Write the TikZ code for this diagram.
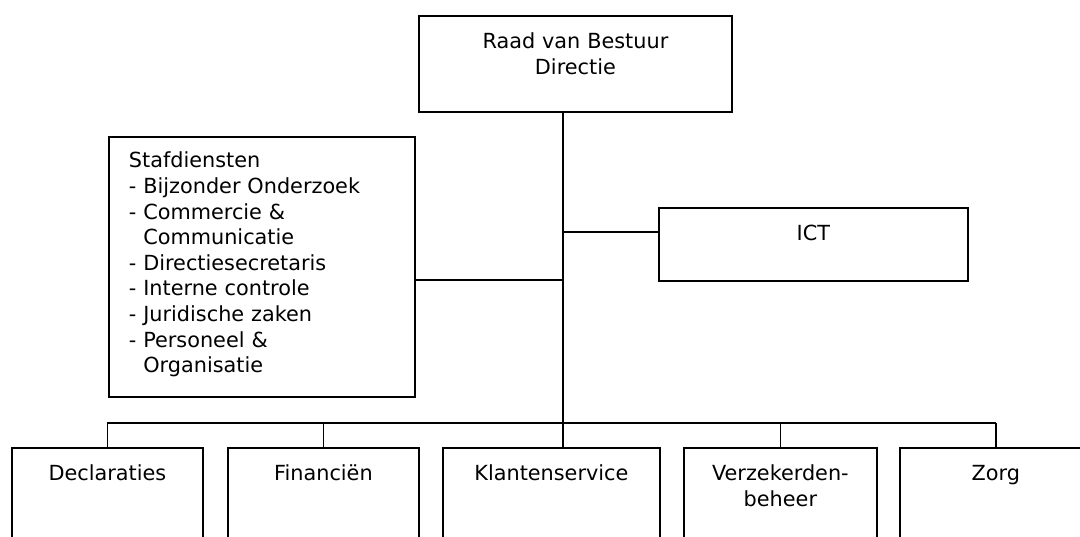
\documentclass[tikz,border=0pt]{standalone}
\usepackage{fontspec}
\setmainfont{DejaVu Sans}
\tikzset{
  unit/.style={draw, line width=1.8pt, inner sep=0pt, anchor=north west,
               align=center, font=\fontsize{20.8}{25.6}\selectfont,
               text height=33pt},
  link/.style={line width=1.8pt},
}

\begin{document}
\begin{tikzpicture}[x=1pt, y=-1pt]
  \useasboundingbox (0,0) rectangle (1080,537);
  \clip (0,0) rectangle (1080,537);

  % Board
  \node[unit, text width=313pt, text depth=63pt] (raad) at (418,15)
    {Raad van Bestuur\\Directie};

  % Staff and ICT
  \node[unit, align=left, inner xsep=20pt, text width=266pt,
        text height=31pt, text depth=229pt] (staf) at (108,136)
    {Stafdiensten\\
     - Bijzonder Onderzoek\\
     - Commercie \&\\
     \hphantom{-}\ Communicatie\\
     - Directiesecretaris\\
     - Interne controle\\
     - Juridische zaken\\
     - Personeel \&\\
     \hphantom{-}\ Organisatie};
  \node[unit, text width=309pt, text depth=40pt] (ict) at (658,207) {ICT};

  % Departments
  \node[unit, text width=191pt, text depth=80pt] (decl) at (11,447) {Declaraties};
  \node[unit, text width=191pt, text depth=80pt] (fin)  at (227,447) {Financiën};
  \node[unit, text width=217pt, text depth=80pt] (klant) at (442,447) {Klantenservice};
  \node[unit, text width=193pt, text depth=80pt] (verz) at (683,447) {Verzekerden-\\beheer};
  \node[unit, text width=192pt, text depth=80pt] (zorg) at (899,447) {Zorg};

  % Connectors
  \coordinate (split) at (563,423);
  \coordinate (ictjoin) at (563,232);
  \coordinate (stafjoin) at (563,280);

  \draw[link] (raad.south -| split) -- (split |- klant.north);
  \draw[link] (ictjoin) -- (ictjoin -| ict.west);
  \draw[link] (stafjoin -| staf.east) -- (stafjoin);
  \draw[link] (split -| decl.north) -- (split -| zorg.north);
  \foreach \d in {decl, fin, verz, zorg}
    \draw[link] (split -| \d.north) -- (\d.north);
\end{tikzpicture}
\end{document}
